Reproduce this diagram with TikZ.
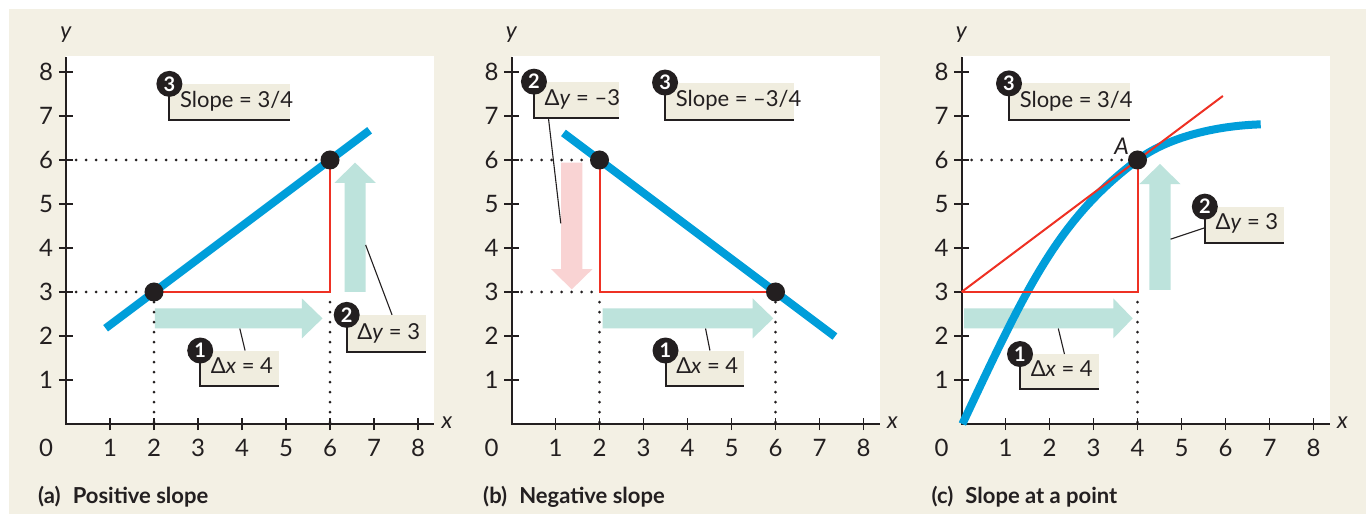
\documentclass[tikz,border=0pt]{standalone}
\usepackage{fontspec}
\setmainfont{Lato}
\definecolor{bg}{RGB}{243,240,228}
\definecolor{boxc}{RGB}{240,237,223}
\definecolor{curveblue}{RGB}{0,158,218}
\definecolor{redl}{RGB}{238,49,36}
\definecolor{arrowteal}{RGB}{189,227,220}
\definecolor{pinkc}{RGB}{249,211,211}
\definecolor{ink}{RGB}{35,31,32}
\tikzset{
 axisline/.style={line width=2pt, ink},
 tickline/.style={line width=1.4pt, ink},
 bluecurve/.style={line width=8pt, curveblue},
 redline/.style={line width=2pt, redl},
 dotline/.style={line width=3pt, ink, dash pattern=on 0pt off 10pt, line cap=round},
 bigdot/.style={circle, fill=ink, minimum size=19pt, inner sep=0pt},
 numc/.style={circle, fill=ink, text=white, font=\fontsize{20}{20}\selectfont\bfseries, minimum size=26pt, inner sep=0pt},
 labtext/.style={font=\fontsize{22}{22}\selectfont, inner sep=0pt, text=ink},
 ticklab/.style={font=\fontsize{24}{24}\selectfont, inner sep=0pt, text=ink},
 axlab/.style={font=\fontsize{23}{23}\selectfont\itshape, inner sep=0pt, text=ink},
 lshape/.style={line width=2pt, ink},
 leader/.style={line width=1.1pt, ink},
 captext/.style={font=\fontsize{22}{22}\selectfont\bfseries, inner sep=0pt, anchor=base west, text=ink},
}
\newcommand{\axesfr}[1]{%
 \fill[white] (0,0) rectangle (8.37,8.36);
 \draw[axisline] (0,8.33) -- (0,0) -- (8.37,0);
 \foreach \i in {1,...,8} {
   \draw[tickline] (\i,-0.14) -- (\i,0.14);
   \draw[tickline] (-0.16,\i) -- (0.16,\i);
   \node[ticklab] (#1xl\i) at (\i,-0.55) {\i};
   \node[ticklab] (#1yl\i) at (-0.45,\i) {\i};
 }
 \node[ticklab] (#1zero) at (-0.45,-0.55) {0};
 \node[axlab] (#1xname) at (8.66,0.02) {x};
 \node[axlab] (#1yname) at (0,8.84) {y};
}
% horizontal block arrow: tail x, head base x, tip x, y
\newcommand{\harrow}[5]{%
 \fill[#5] (#1,{#4-0.227}) -- (#2,{#4-0.227}) -- (#2,{#4-0.455}) -- (#3,#4)
   -- (#2,{#4+0.455}) -- (#2,{#4+0.227}) -- (#1,{#4+0.227}) -- cycle;
}
% vertical block arrow: center x, tail y, head base y, tip y
\newcommand{\varrow}[5]{%
 \fill[#5] ({#1-0.24},#2) -- ({#1-0.24},#3) -- ({#1-0.47},#3) -- (#1,#4)
   -- ({#1+0.47},#3) -- ({#1+0.24},#3) -- ({#1+0.24},#2) -- cycle;
}
% callout: name, cx, cy, right, bottom, number, text
\newcommand{\callout}[7]{%
 \fill[boxc] (#2,#3) rectangle (#4,#5);
 \draw[lshape] (#2,#3) -- (#2,#5) -- (#4,#5);
 \node[labtext, anchor=base west] (#1t) at ({#2+0.24},{#5+0.29}) {#7};
 \node[numc] (#1n) at (#2,#3) {#6};
}
\begin{document}
\begin{tikzpicture}[x=1pt,y=1pt]
\useasboundingbox (0,0) rectangle (1366,514);
\fill[white] (0,0) rectangle (1366,514);
\fill[bg] (9,0) rectangle (1366,505);

% ---------------- panel (a)
\begin{scope}[shift={(66pt,90pt)}, x=44pt, y=44pt]
 \axesfr{a}
 \harrow{2.02}{5.36}{5.83}{2.40}{arrowteal}
 \varrow{6.57}{3.0}{5.48}{5.94}{arrowteal}
 \draw[dotline] (0.23,6) -- (6,6);
 \draw[dotline] (0.23,3) -- (2,3);
 \draw[dotline] (2,2.77) -- (2,0);
 \draw[dotline] (6,2.77) -- (6,0);
 \draw[bluecurve] (0.9,2.175) -- (6.9,6.675);
 \draw[redline] (2,3) -- (6,3) -- (6,6);
 \node[bigdot] (aP) at (2,3) {};
 \node[bigdot] (aQ) at (6,6) {};
 \callout{aS}{2.35}{7.73}{5.1}{6.91}{3}{Slope = 3/4}
 \callout{aX}{3.05}{1.67}{4.85}{0.86}{1}{Δ\textit{x} = 4}
 \callout{aY}{6.38}{2.48}{8.18}{1.64}{2}{Δ\textit{y} = 3}
 \coordinate (aXa) at (4.07,1.67); \coordinate (aXb) at (3.95,2.17);
 \draw[leader] (aXa) -- (aXb);
 \coordinate (aYa) at (7.41,2.48); \coordinate (aYb) at (6.81,4.07);
 \draw[leader] (aYa) -- (aYb);
\end{scope}

% ---------------- panel (b)
\begin{scope}[shift={(511.5pt,90pt)}, x=44pt, y=44pt]
 \axesfr{b}
 \harrow{2.07}{5.48}{5.95}{2.40}{arrowteal}
 \varrow{1.37}{5.94}{3.52}{3.06}{pinkc}
 \draw[dotline] (0.23,6) -- (2,6);
 \draw[dotline] (0.23,3) -- (2,3);
 \draw[dotline] (2,2.77) -- (2,0);
 \draw[dotline] (6,2.77) -- (6,0);
 \draw[bluecurve] (1.18,6.615) -- (7.35,1.9875);
 \draw[redline] (2,6) -- (2,3) -- (6,3);
 \node[bigdot] (bP) at (2,6) {};
 \node[bigdot] (bQ) at (6,3) {};
 \callout{bY}{0.51}{7.78}{2.44}{6.95}{2}{Δ\textit{y} = –3}
 \callout{bS}{3.49}{7.76}{6.43}{6.92}{3}{Slope = –3/4}
 \callout{bX}{3.5}{1.67}{5.29}{0.86}{1}{Δ\textit{x} = 4}
 \coordinate (bYa) at (0.84,6.95); \coordinate (bYb) at (1.12,4.56);
 \draw[leader] (bYa) -- (bYb);
 \coordinate (bXa) at (4.51,1.67); \coordinate (bXb) at (4.41,2.17);
 \draw[leader] (bXa) -- (bXb);
\end{scope}

% ---------------- panel (c)
\begin{scope}[shift={(961.5pt,90pt)}, x=44pt, y=44pt]
 \axesfr{c}
 \harrow{0.06}{3.45}{3.89}{2.40}{arrowteal}
 \varrow{4.51}{3.05}{5.45}{5.91}{arrowteal}
 \draw[dotline] (0.23,6) -- (4,6);
 \draw[dotline] (4,2.77) -- (4,0);
 \draw[bluecurve] (0.02,0) .. controls (1.5,3.15) and (2.2,4.65) .. (4,6)
   .. controls (4.7,6.525) and (5.8,6.78) .. (6.8,6.81);
 \draw[redline] (0,3) -- (4,3) -- (4,6);
 \draw[redline] (0,3) -- (5.94,7.455);
 \node[bigdot] (cA) at (4,6) {};
 \node[axlab] (cAl) at (3.64,6.32) {A};
 \callout{cS}{1.08}{7.74}{3.83}{6.91}{3}{Slope = 3/4}
 \callout{cY}{5.53}{4.94}{7.33}{4.12}{2}{Δ\textit{y} = 3}
 \callout{cX}{1.33}{1.59}{3.13}{0.79}{1}{Δ\textit{x} = 4}
 \coordinate (cYa) at (5.53,4.46); \coordinate (cYb) at (4.75,4.2);
 \draw[leader] (cYa) -- (cYb);
 \coordinate (cXa) at (2.34,1.59); \coordinate (cXb) at (2.2,2.17);
 \draw[leader] (cXa) -- (cXb);
\end{scope}

% captions
\node[captext] (capa) at (38,10.5) {(a)\hspace{0.55em}Positive slope};
\node[captext] (capb) at (483,10.5) {(b)\hspace{0.55em}Negative slope};
\node[captext] (capc) at (931.5,10.5) {(c)\hspace{0.55em}Slope at a point};
\end{tikzpicture}
\end{document}
